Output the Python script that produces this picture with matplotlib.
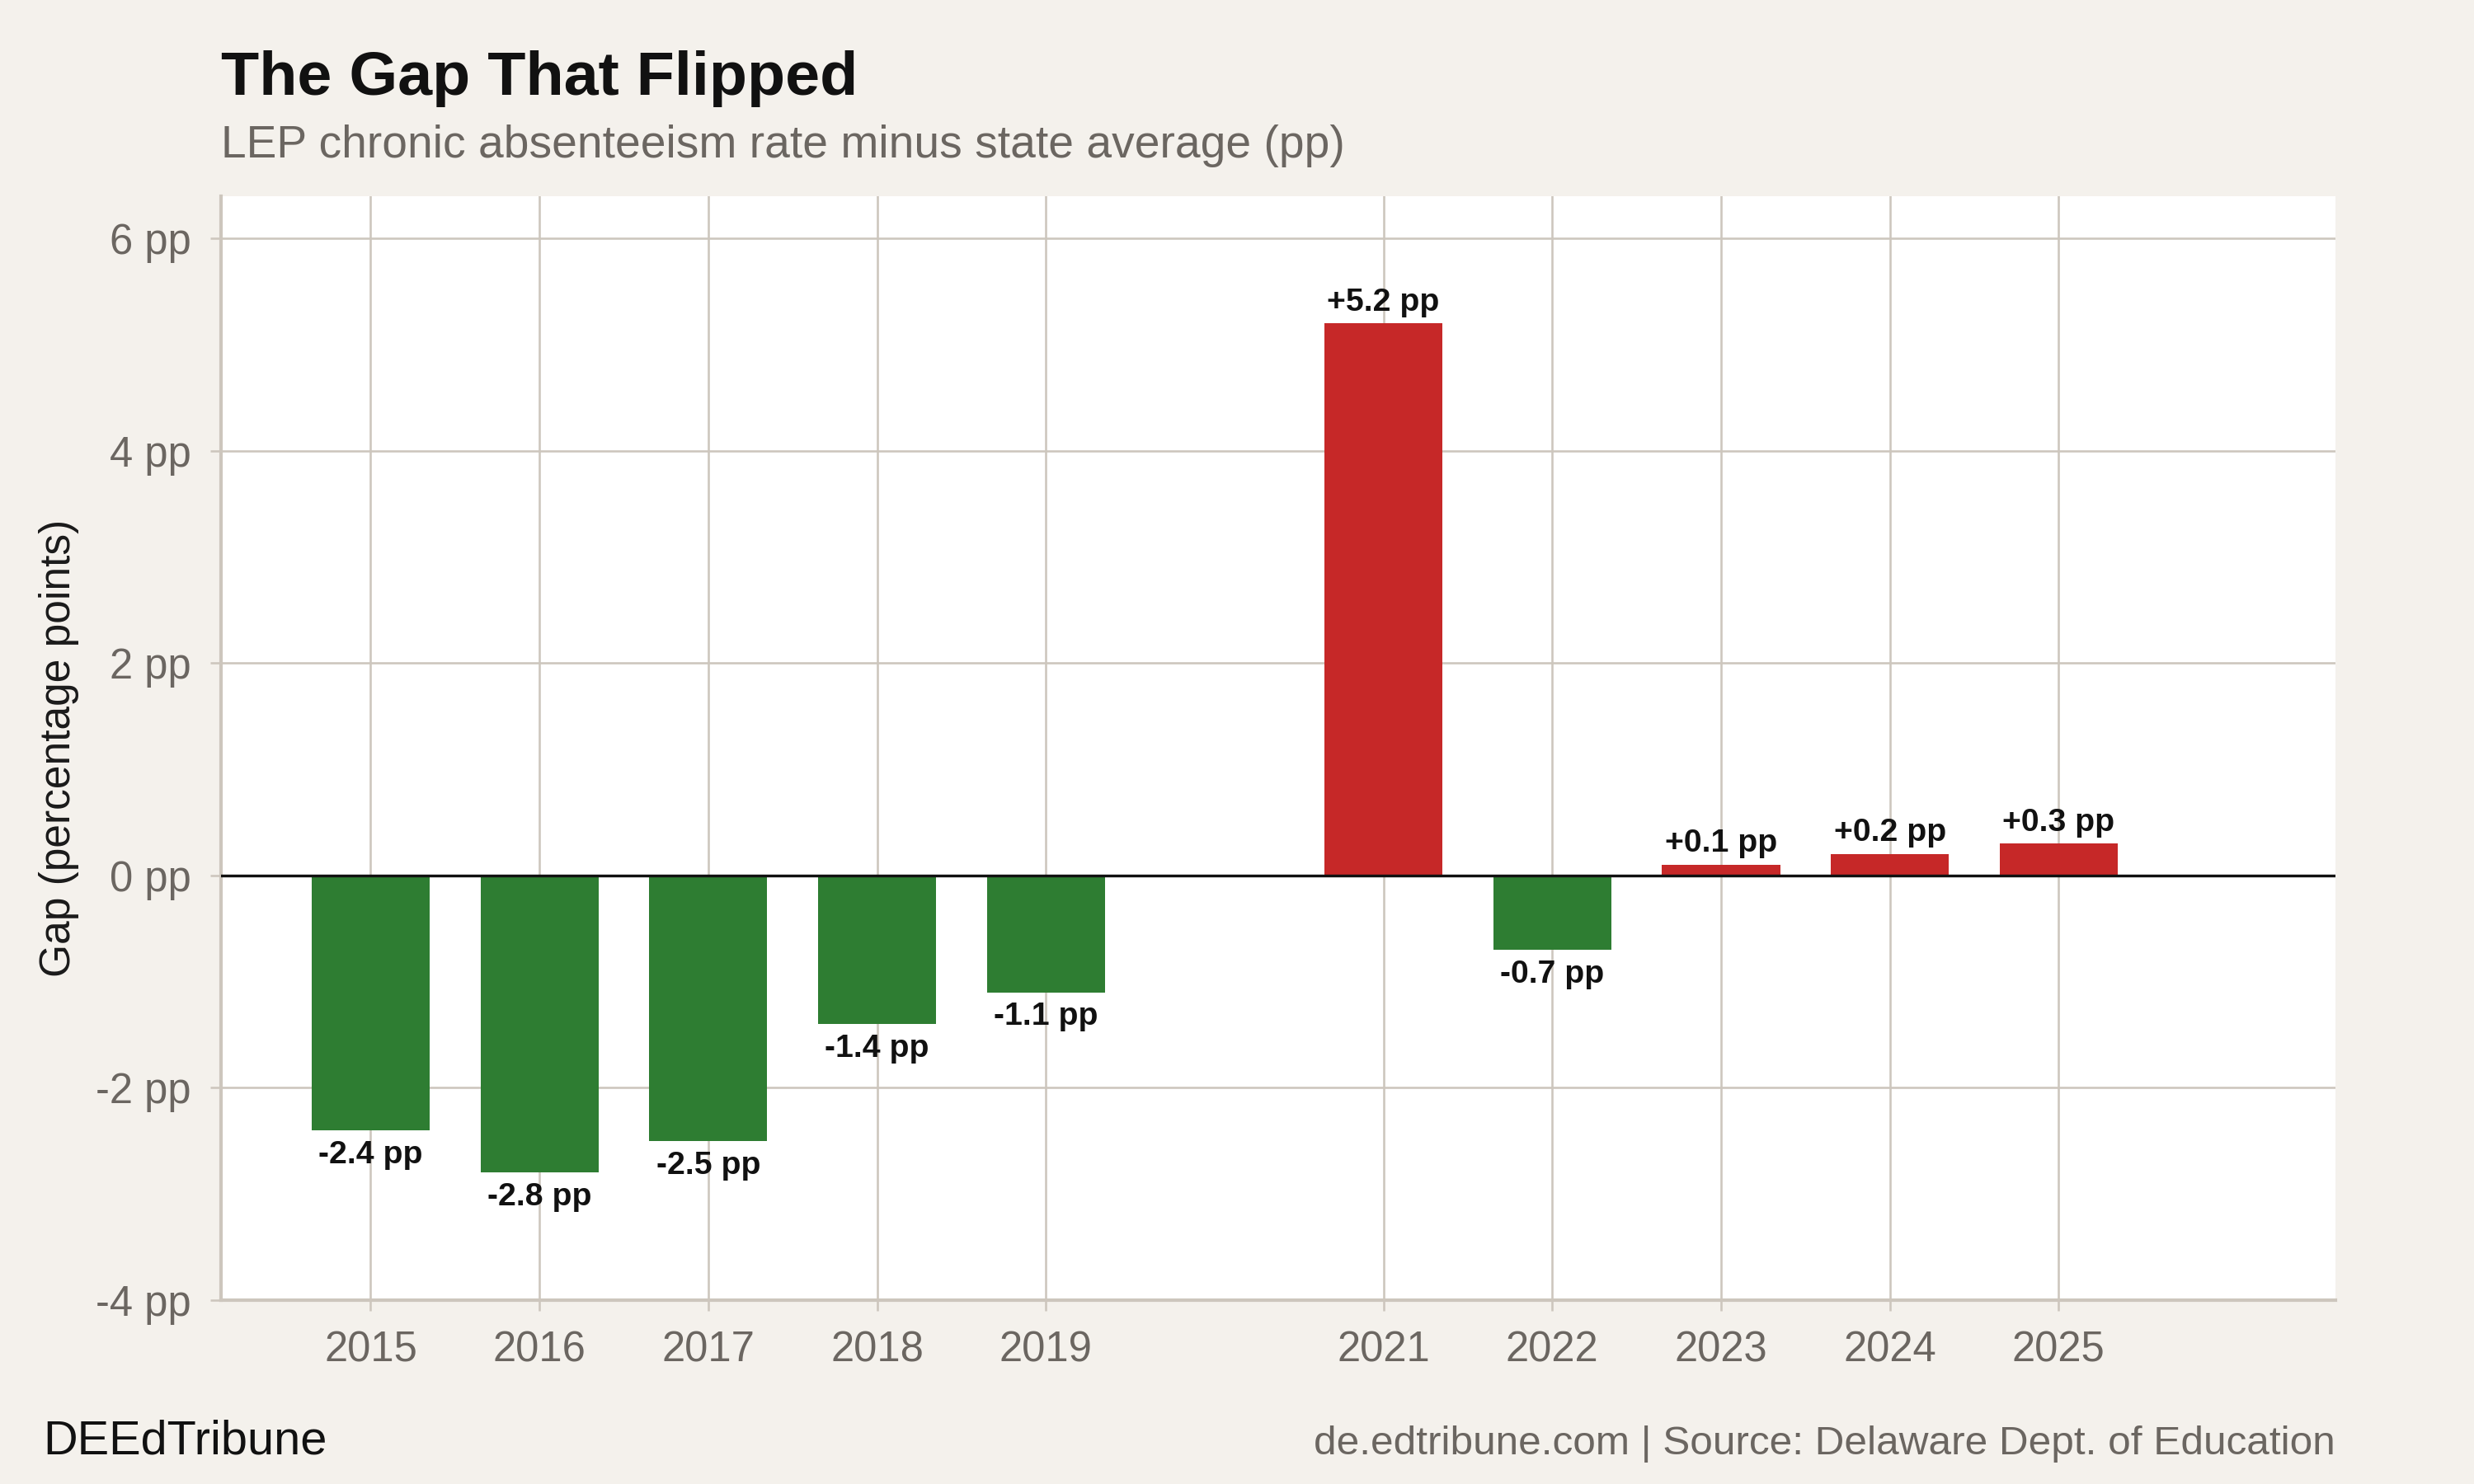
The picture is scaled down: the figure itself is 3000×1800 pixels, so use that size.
import numpy as np
import matplotlib
matplotlib.use("Agg")
import matplotlib.pyplot as plt

plt.rcParams['font.family'] = ['Liberation Sans', 'DejaVu Sans']

# data: LEP chronic absenteeism gap vs state average (pp)
years = [2015, 2016, 2017, 2018, 2019, 2021, 2022, 2023, 2024, 2025]
gap = [-2.4, -2.8, -2.5, -1.4, -1.1, 5.2, -0.7, 0.1, 0.2, 0.3]
yticks = [-4, -2, 0, 2, 4, 6]

BG = '#F4F1EC'
GRID = '#CDC6BD'
GREEN = '#2E7D32'
RED = '#C62828'
GREY_TXT = '#6B6661'

fig = plt.figure(figsize=(16, 9.6), dpi=187.5, facecolor=BG)
ax = fig.add_axes([0.0893, 0.1239, 0.944 - 0.0893, 0.8678 - 0.1239])
ax.set_facecolor('white')

colors = [RED if g > 0 else GREEN for g in gap]
ax.bar(years, gap, width=0.7, color=colors, zorder=3)
ax.axhline(0, color='#111111', lw=1.3, zorder=4)

# value labels
for x, g in zip(years, gap):
    txt = f'{g:+.1f} pp'
    if g > 0:
        ax.annotate(txt, (x, g), xytext=(0, 3), textcoords='offset points',
                    ha='center', va='bottom', fontsize=15, fontweight='bold', color='#111111', zorder=5)
    else:
        ax.annotate(txt, (x, g), xytext=(0, -4.5), textcoords='offset points',
                    ha='center', va='top', fontsize=15, fontweight='bold', color='#111111', zorder=5)

ax.set_xlim(2014.113, 2026.64)
ax.set_ylim(-4, 6.4)
ax.set_xticks(years)
ax.set_xticklabels([str(y) for y in years])
ax.set_yticks(yticks)
ax.set_yticklabels([f'{t} pp' for t in yticks])

ax.grid(True, color=GRID, lw=1.0, zorder=0)
for s in ['top', 'right']:
    ax.spines[s].set_visible(False)
for s in ['left', 'bottom']:
    ax.spines[s].set_color(GRID)
    ax.spines[s].set_linewidth(1.6)
ax.tick_params(axis='both', colors=GRID, length=5, width=1.0, labelsize=19.5,
               labelcolor=GREY_TXT, pad=9)

ax.set_ylabel('Gap (percentage points)', fontsize=19.8, color='#1A1A1A')
ax.yaxis.set_label_coords(-0.0672, 0.5)

fig.text(0.0893, 0.936, 'The Gap That Flipped', fontsize=29, fontweight='bold',
         color='#111111', ha='left', va='baseline')
fig.text(0.0893, 0.894, 'LEP chronic absenteeism rate minus state average (pp)',
         fontsize=21.2, color=GREY_TXT, ha='left', va='baseline')

fig.text(0.0173, 0.020, 'DEEdTribune', fontsize=22.2, color='#111111', ha='left', va='baseline')
fig.text(0.944, 0.020, 'de.edtribune.com | Source: Delaware Dept. of Education',
         fontsize=19.0, color=GREY_TXT, ha='right', va='baseline')

fig.savefig('out.png', dpi=187.5, facecolor=BG)
